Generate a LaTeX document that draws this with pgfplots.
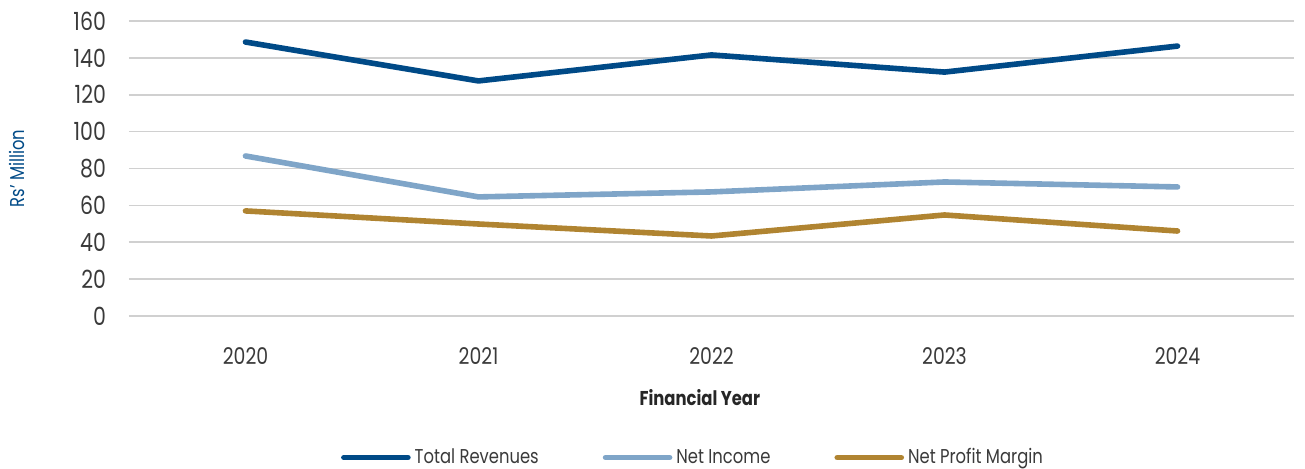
\documentclass[border=0pt]{standalone}
\usepackage{fontspec}
\setmainfont{Poppins}[FakeStretch=0.82]
\usepackage{pgfplots}
\pgfplotsset{compat=1.18}
\definecolor{trev}{HTML}{004A87}
\definecolor{ninc}{HTML}{7FA5C8}
\definecolor{npm}{HTML}{B08431}
\definecolor{gridc}{HTML}{D0D0D0}
\definecolor{txt}{HTML}{3A3A3A}
\begin{document}
\begin{tikzpicture}
\path[use as bounding box] (-64.5pt,-76pt) rectangle (588pt,158pt);
\begin{axis}[
  at={(0,0)}, anchor=south west,
  scale only axis, width=582.5pt, height=147.5pt,
  xmin=-0.5, xmax=4.5, ymin=0, ymax=160,
  xtick={0,1,2,3,4}, xticklabels={2020,2021,2022,2023,2024},
  ytick={0,20,...,160},
  axis line style={draw=none},
  tick style={draw=none},
  ymajorgrids, grid style={gridc, line width=0.8pt},
  yticklabel style={font=\fontsize{12.5}{14}\selectfont, text=txt, xshift=-8pt},
  xticklabel style={font=\fontsize{11.5}{13}\selectfont, text=txt, yshift=-12pt},
  /pgf/number format/assume math mode=true,
  ylabel={Rs' Million}, ylabel style={font=\fontsize{10}{12}\selectfont, text=trev, at={(axis description cs:-0.0961,0.5)}, anchor=center, rotate=0},
  xlabel={\textbf{Financial Year}}, xlabel style={font=\fontsize{10}{12}\selectfont, text=black!85, at={(axis description cs:0.49,0)}, yshift=-33pt, anchor=north},
  legend style={at={(axis description cs:0.485,0)}, anchor=north, yshift=-62pt, draw=none, font=\fontsize{10}{12}\selectfont, text=txt, legend columns=3, /tikz/every even column/.append style={column sep=30pt}},
  legend image code/.code={\draw[#1, line cap=round] (0cm,0cm) -- (32pt,0cm);},
  every axis plot/.append style={line width=2.8pt, line cap=round, line join=round},
]
\addplot[trev] coordinates {(0,148.6) (1,127.5) (2,141.6) (3,132.3) (4,146.4)};
\addlegendentry{Total Revenues}
\addplot[ninc] coordinates {(0,86.8) (1,64.6) (2,67.3) (3,72.7) (4,70.0)};
\addlegendentry{Net Income}
\addplot[npm] coordinates {(0,57.0) (1,49.9) (2,43.4) (3,54.8) (4,46.1)};
\addlegendentry{Net Profit Margin}
\end{axis}
\end{tikzpicture}
\end{document}
